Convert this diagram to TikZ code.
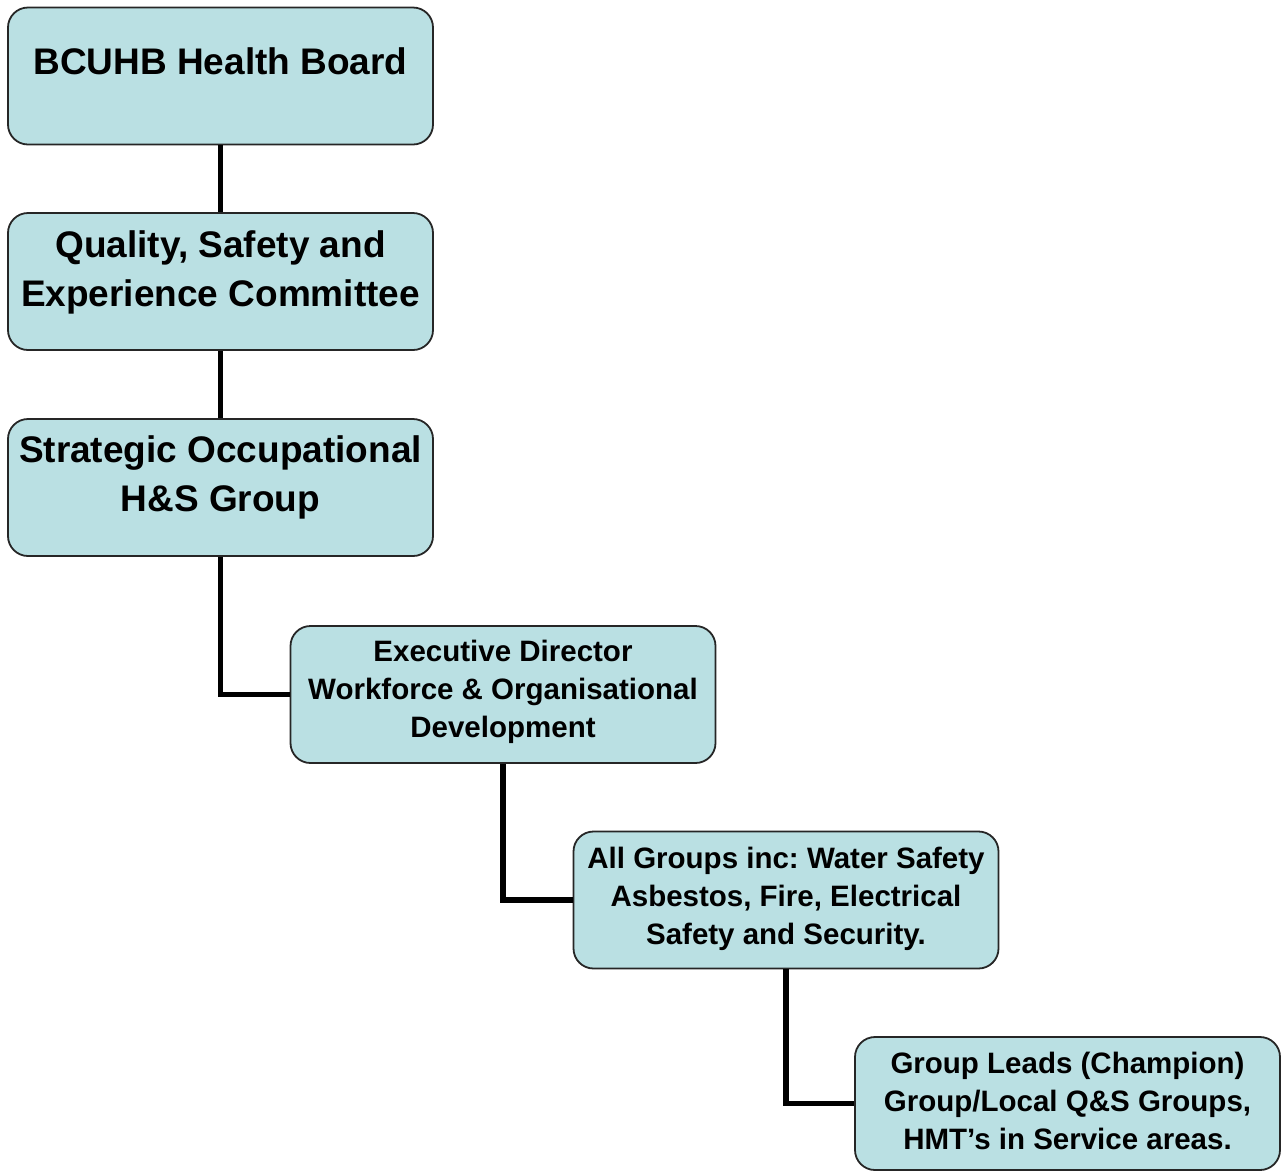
\documentclass[tikz,border=0pt]{standalone}
\usepackage{fontspec}
\setmainfont{Liberation Sans}
\usepackage{xcolor}
\usepackage{tikz}
\usetikzlibrary{arrows}
\definecolor{boxfill}{RGB}{186,224,227}
\frenchspacing
\tikzset{
	box node/.style={rectangle,rounded corners=20pt,draw=black!85,line width=1.8pt,fill=boxfill,
		minimum width=425pt,minimum height=137pt,inner sep=0pt},
	big text/.style={align=center,font=\bfseries\fontsize{37}{49}\selectfont,inner sep=0pt},
	small text/.style={align=center,font=\bfseries\fontsize{29.5}{38}\selectfont,inner sep=0pt},
	link/.style={line width=5.5pt,black}
}

\begin{document}
\begin{tikzpicture}[x=1pt,y=-1pt]
	\useasboundingbox (0,0) rectangle (1284,1171);
	% boxes
	\node [box node] (hb) at (220.5,76) {};
	\node [box node] (qsec) at (220.5,281.5) {};
	\node [box node] (sohs) at (220.5,487.5) {};
	\node [box node] (exdir) at (503,694.5) {};
	\node [box node] (allgrp) at (786,900) {};
	\node [box node,minimum height=133pt] (leads) at (1067.5,1103.5) {};
	% connectors
	\draw [link] (hb) -- (qsec);
	\draw [link] (qsec) -- (sohs);
	\draw [link] (sohs.south) |- (exdir.west);
	\draw [link] (exdir.south) |- (allgrp.west);
	\draw [link] (allgrp.south) |- (leads.west);
	% texts
	\node [big text] (hbt) at (220.5,61) {BCUHB Health Board};
	\node [big text] (qsect) at (220.5,272) {Quality, Safety and\\Experience Committee};
	\node [big text] (sohst) at (220.5,477) {Strategic Occupational\\H\&S Group};
	\node [small text] (exdirt) at (503,692) {Executive Director\\Workforce \& Organisational\\Development};
	\node [small text] (allgrpt) at (786,899) {All Groups inc: Water Safety\\Asbestos, Fire, Electrical\\Safety and Security.};
	\node [small text] (leadst) at (1067.5,1100.5) {Group Leads (Champion)\\Group/Local Q\&S Groups,\\HMT’s in Service areas.};
\end{tikzpicture}
\end{document}
